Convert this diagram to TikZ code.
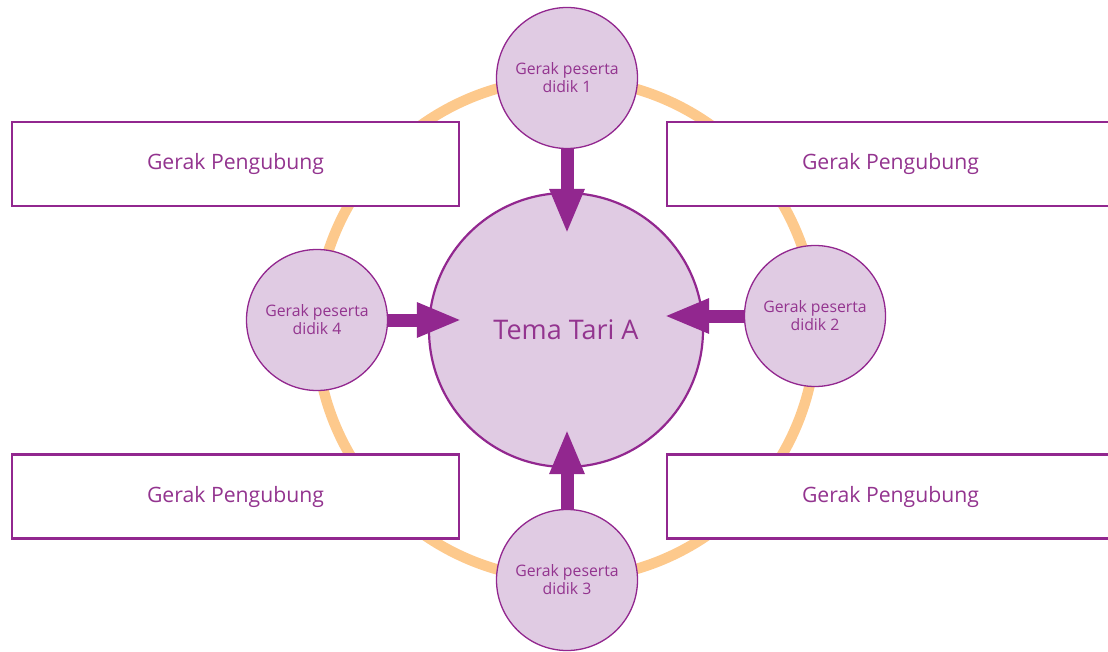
\documentclass[tikz,border=0pt]{standalone}
\usepackage{fontspec}
\setmainfont{Open Sans}
\usetikzlibrary{arrows.meta}
\definecolor{tpurple}{HTML}{92278F}
\definecolor{ttext}{HTML}{93348F}
\definecolor{tfill}{HTML}{E0CBE3}
\definecolor{torange}{HTML}{FDC98C}
\tikzset{
  sat/.style={circle, draw=tpurple, line width=1.3pt, fill=tfill, minimum size=141pt, inner sep=0pt,
    align=center, text=ttext, font=\fontsize{15.8}{18}\selectfont},
  hub/.style={circle, draw=tpurple, line width=2.2pt, fill=tfill, minimum size=274pt, inner sep=0pt,
    text=ttext, font=\fontsize{27}{32}\selectfont},
  linkbox/.style={draw=tpurple, line width=2.2pt, fill=white, minimum width=447pt, minimum height=84pt,
    inner sep=0pt, text=ttext, font=\fontsize{21.2}{25}\selectfont},
  bigarrow/.style={draw=tpurple, line width=13pt, -{Triangle[length=45pt,width=32pt]}},
}
\begin{document}
\begin{tikzpicture}[x=1pt,y=-1pt]
\useasboundingbox (0,0) rectangle (1108,652);
\clip (0,0) rectangle (1108,652);
\draw[torange, line width=10.5pt] (566,329) circle[radius=250];
\node[linkbox] (b1) at (235.5,164) {\raisebox{-2pt}{Gerak Pengubung}};
\node[linkbox] (b2) at (890.5,164) {\raisebox{-2pt}{Gerak Pengubung}};
\node[linkbox] (b3) at (235.5,496.5) {\raisebox{-2pt}{Gerak Pengubung}};
\node[linkbox] (b4) at (890.5,496.5) {\raisebox{-2pt}{Gerak Pengubung}};
\node[hub] (c) at (566,330) {Tema Tari A};
\node[sat] (s1) at (567,78) {\raisebox{-2pt}{Gerak peserta}\\\raisebox{-2pt}{didik 1}};
\node[sat] (s2) at (815,316) {\raisebox{-2pt}{Gerak peserta}\\\raisebox{-2pt}{didik 2}};
\node[sat] (s3) at (567,580) {\raisebox{-2pt}{Gerak peserta}\\\raisebox{-2pt}{didik 3}};
\node[sat] (s4) at (317,320) {\raisebox{-2pt}{Gerak peserta}\\\raisebox{-2pt}{didik 4}};
\draw[bigarrow, shorten >=-42pt] (s1.south) -- (s1.south |- c.north);
\draw[bigarrow, shorten >=-40pt] (s2.west) -- (s2.west -| c.east);
\draw[bigarrow, shorten >=-39pt] (s3.north) -- (s3.north |- c.south);
\draw[bigarrow, shorten >=-34pt] (s4.east) -- (s4.east -| c.west);
\end{tikzpicture}
\end{document}
